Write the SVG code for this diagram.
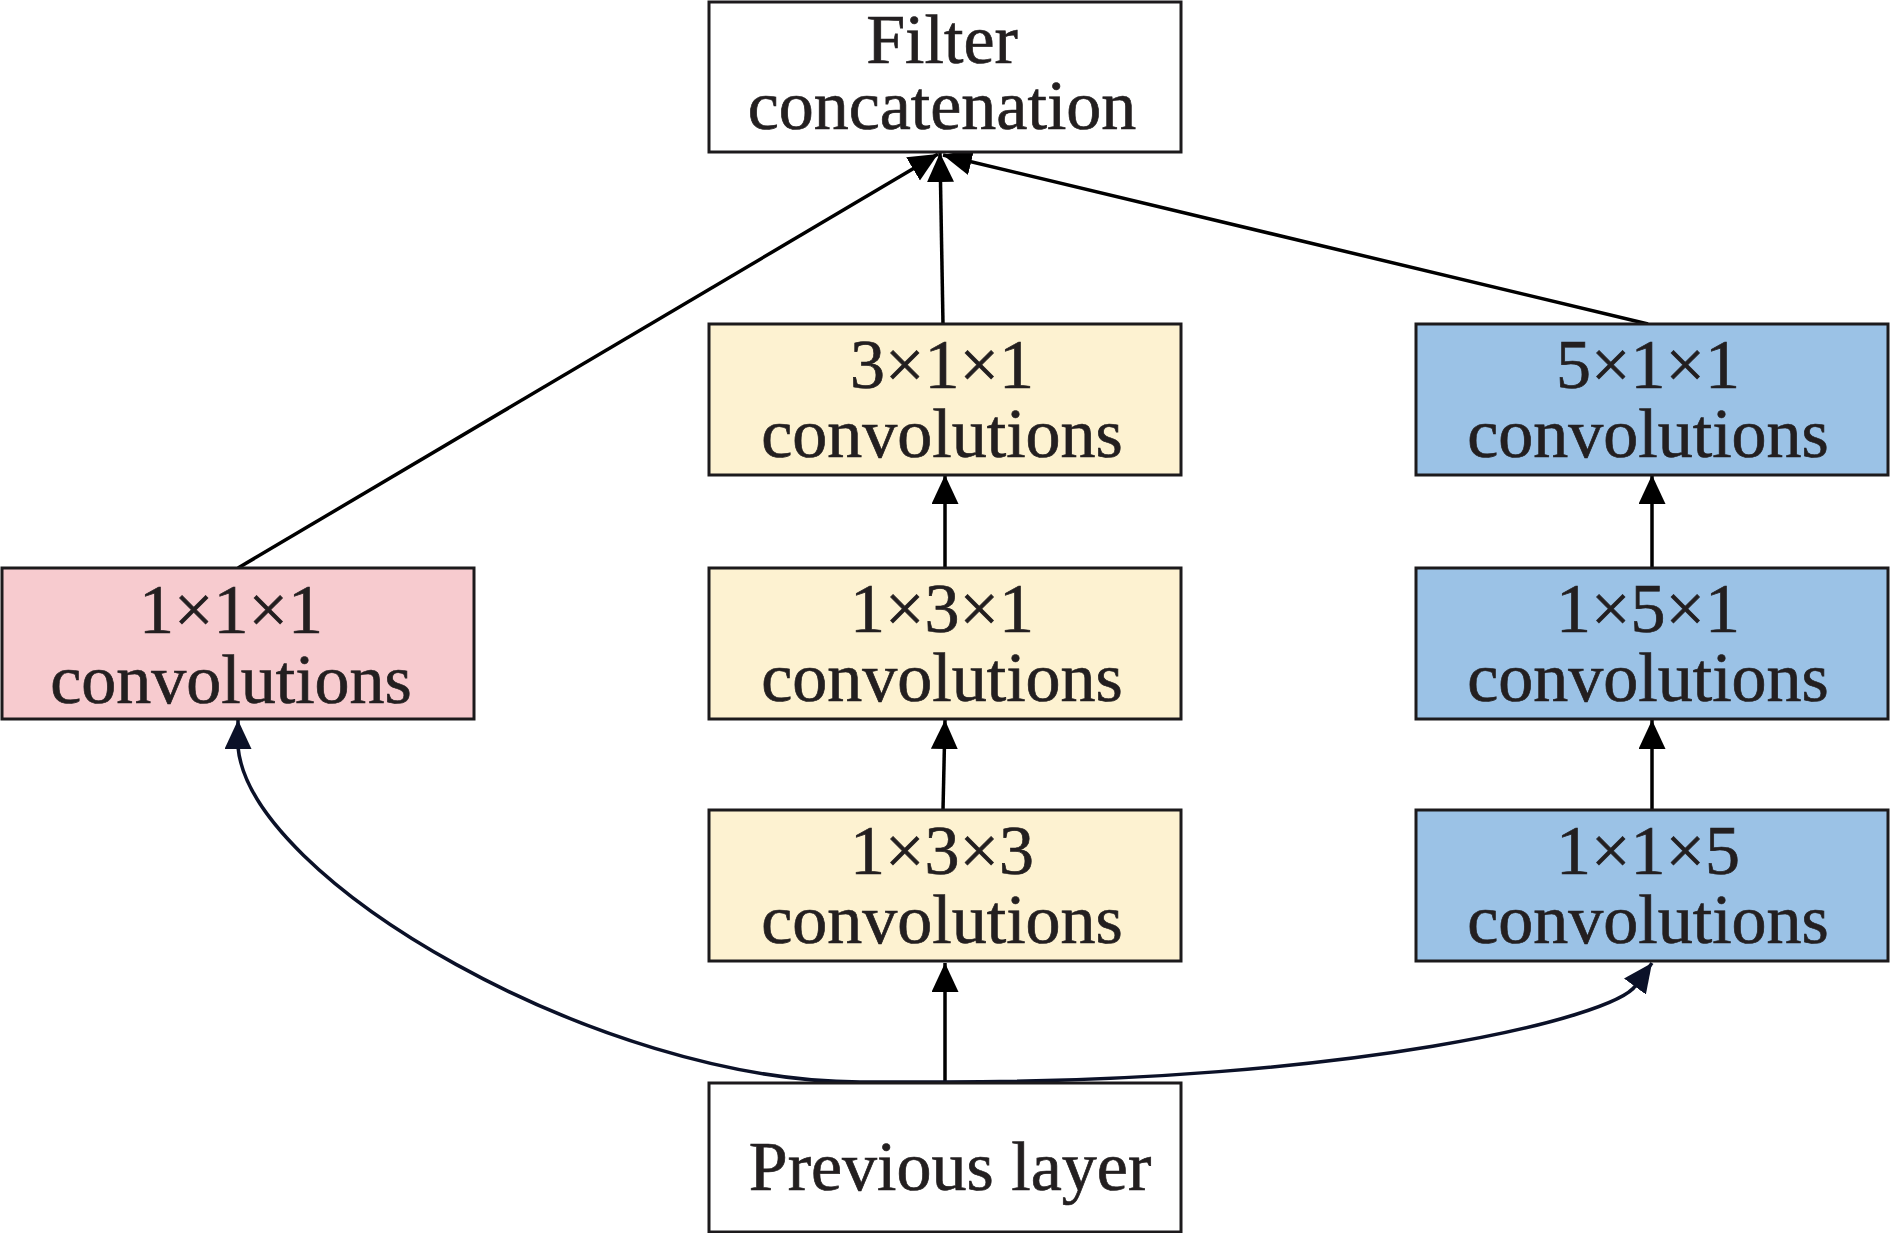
<svg xmlns="http://www.w3.org/2000/svg" width="1891" height="1233" viewBox="0 0 1891 1233">
<style>
.box{stroke:#1c1a1c;stroke-width:3}
.white{fill:#ffffff}
.pink{fill:#f7cbcf}
.yellow{fill:#fdf2d1}
.blue{fill:#9bc2e6}
.lbl{font-family:"Liberation Serif","Times New Roman",serif;font-size:70px;fill:#231f20;stroke:#231f20;stroke-width:0.7;text-anchor:middle}
.ln{fill:none;stroke:#000;stroke-width:3.5}
.cv{fill:none;stroke:#0b1128;stroke-width:3.5}
</style>
<defs>
<marker id="ah" markerUnits="userSpaceOnUse" markerWidth="30" markerHeight="28" refX="29" refY="13.5" orient="auto">
<path d="M0,0 L29,13.5 L0,27 z" fill="#000"/>
</marker>
<marker id="ahn" markerUnits="userSpaceOnUse" markerWidth="30" markerHeight="28" refX="29" refY="13.5" orient="auto">
<path d="M0,0 L29,13.5 L0,27 z" fill="#0b1128"/>
</marker>
</defs>
<rect width="1891" height="1233" fill="#ffffff"/>
<g id="connectors">
<line class="ln" x1="945" y1="1083" x2="945" y2="963" marker-end="url(#ah)"/>
<line class="ln" x1="943" y1="810" x2="945" y2="720" marker-end="url(#ah)"/>
<line class="ln" x1="945" y1="568" x2="945" y2="475" marker-end="url(#ah)"/>
<line class="ln" x1="943" y1="324" x2="940" y2="153" marker-end="url(#ah)"/>
<line class="ln" x1="238" y1="568" x2="938" y2="154" marker-end="url(#ah)"/>
<line class="ln" x1="1648" y1="324" x2="943" y2="155" marker-end="url(#ah)"/>
<line class="ln" x1="1652" y1="568" x2="1652" y2="475" marker-end="url(#ah)"/>
<line class="ln" x1="1652" y1="810" x2="1652" y2="720" marker-end="url(#ah)"/>
<path class="cv" d="M 945 1082 L 860 1082 C 600 1082, 250 880, 238 747 L 238 720" marker-end="url(#ahn)"/>
<path class="cv" d="M 945 1082 C 1345 1082, 1615 1019, 1636 985 L 1652 963" marker-end="url(#ahn)"/>
</g>
<g id="filter">
<rect class="box white" x="709" y="2" width="472" height="150"/>
<text class="lbl" x="942" y="63">Filter</text>
<text class="lbl" x="942" y="129">concatenation</text>
</g>
<g id="conv311">
<rect class="box yellow" x="709" y="324" width="472" height="151"/>
<text class="lbl" x="942" y="388">3×1×1</text>
<text class="lbl" x="942" y="457">convolutions</text>
</g>
<g id="conv131">
<rect class="box yellow" x="709" y="568" width="472" height="151"/>
<text class="lbl" x="942" y="632">1×3×1</text>
<text class="lbl" x="942" y="701">convolutions</text>
</g>
<g id="conv133">
<rect class="box yellow" x="709" y="810" width="472" height="151"/>
<text class="lbl" x="942" y="874">1×3×3</text>
<text class="lbl" x="942" y="943">convolutions</text>
</g>
<g id="conv111">
<rect class="box pink" x="2" y="568" width="472" height="151"/>
<text class="lbl" x="231" y="633">1×1×1</text>
<text class="lbl" x="231" y="703">convolutions</text>
</g>
<g id="conv511">
<rect class="box blue" x="1416" y="324" width="472" height="151"/>
<text class="lbl" x="1648" y="388">5×1×1</text>
<text class="lbl" x="1648" y="457">convolutions</text>
</g>
<g id="conv151">
<rect class="box blue" x="1416" y="568" width="472" height="151"/>
<text class="lbl" x="1648" y="632">1×5×1</text>
<text class="lbl" x="1648" y="701">convolutions</text>
</g>
<g id="conv115">
<rect class="box blue" x="1416" y="810" width="472" height="151"/>
<text class="lbl" x="1648" y="874">1×1×5</text>
<text class="lbl" x="1648" y="943">convolutions</text>
</g>
<g id="previous">
<rect class="box white" x="709" y="1083" width="472" height="149"/>
<text class="lbl" x="950" y="1190">Previous layer</text>
</g>
</svg>
